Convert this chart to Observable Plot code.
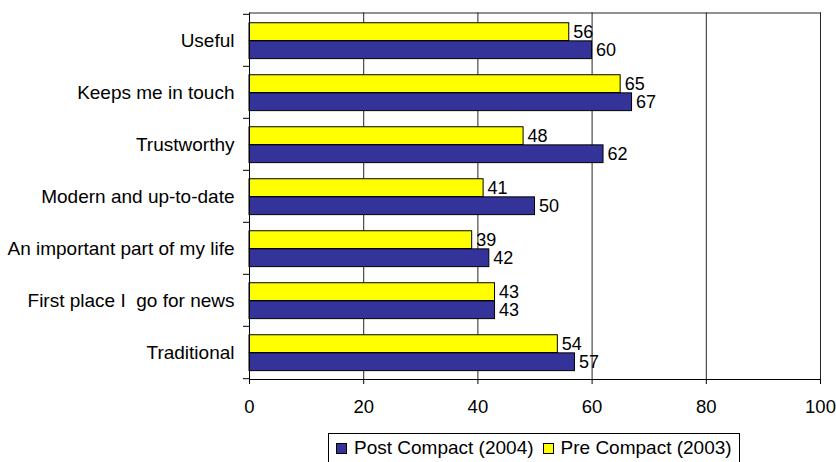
<!DOCTYPE html>
<html>
<head>
<meta charset="utf-8">
<script src="https://cdn.jsdelivr.net/npm/d3@7"></script>
<script src="https://cdn.jsdelivr.net/npm/@observablehq/plot@0.6"></script>
<style>
  html, body { margin: 0; padding: 0; background: #fff; }
  body { width: 836px; height: 462px; overflow: hidden; position: relative; font-family: "Liberation Sans", Arial, sans-serif; }
  #chart svg { display: block; }
  #legend {
    position: absolute; left: 328px; top: 433px; width: 412px; height: 30px;
    border: 1px solid #000; box-sizing: border-box; padding: 0 0 0 7px;
    font-size: 19px; line-height: 28px; display: flex; align-items: center;
    white-space: nowrap; color: #000;
  }
  .sw { display: inline-block; width: 9px; height: 9px; border: 1px solid #000; margin-right: 7px; }
  .item { display: inline-flex; align-items: center; margin-right: 9px; }
</style>
</head>
<body>
<div id="chart"></div>
<div id="legend"></div>
<script>
const categories = ["Useful", "Keeps me in touch", "Trustworthy", "Modern and up-to-date", "An important part of my life", "First place I  go for news", "Traditional"];
const seriesNames = ["Post Compact (2004)", "Pre Compact (2003)"];
const post2004 = [60, 67, 62, 50, 42, 43, 57];
const pre2003 = [56, 65, 48, 41, 39, 43, 54];
const xTicks = [0, 20, 40, 60, 80, 100];
const colors = { "Post Compact (2004)": "#333399", "Pre Compact (2003)": "#FFFF00" };

const preData = categories.map((c, i) => ({ category: c, value: pre2003[i] }));
const postData = categories.map((c, i) => ({ category: c, value: post2004[i] }));

const W = 836, H = 430, mt = 12.5, mb = 51, ml = 249, mr = 16;
const step = (H - mt - mb) / categories.length;
const topGap = step * 0.167, barH = step * 0.346;

const chart = Plot.plot({
  width: W, height: H,
  marginTop: mt, marginBottom: mb, marginLeft: ml, marginRight: mr,
  style: { fontFamily: "'Liberation Sans', Arial, sans-serif", fontSize: "19px", color: "#000", background: "#fff", overflow: "visible" },
  x: { domain: [0, 100], ticks: xTicks, label: null },
  y: { domain: categories, padding: 0, label: null },
  marks: [
    Plot.gridX(xTicks.filter(d => d > 0), { stroke: "#000", strokeOpacity: 0.85 }),
    Plot.frame({ anchor: "top", stroke: "#000", strokeOpacity: 0.85 }),
    Plot.barX(preData, { y: "category", x: "value", fill: colors["Pre Compact (2003)"], stroke: "#000", strokeWidth: 1,
      insetTop: topGap, insetBottom: step - topGap - barH }),
    Plot.barX(postData, { y: "category", x: "value", fill: colors["Post Compact (2004)"], stroke: "#000", strokeWidth: 1,
      insetTop: topGap + barH, insetBottom: step - topGap - 2 * barH }),
    Plot.text(preData, { y: "category", x: "value", text: d => String(d.value), textAnchor: "start", dx: 4,
      dy: topGap + barH / 2 - step / 2, fontSize: 18, fill: "#000" }),
    Plot.text(postData, { y: "category", x: "value", text: d => String(d.value), textAnchor: "start", dx: 4,
      dy: topGap + 1.5 * barH - step / 2, fontSize: 18, fill: "#000" }),
    Plot.ruleY(categories, { y: d => d, x1: -1.05, x2: 0, dy: -step / 2, stroke: "#000" }),
    Plot.ruleY([categories[categories.length - 1]], { y: d => d, x1: -1.05, x2: 0, dy: step / 2, stroke: "#000" }),
    Plot.frame({ anchor: "left", stroke: "#000" }),
    Plot.frame({ anchor: "bottom", stroke: "#000" }),
    Plot.axisX({ ticks: xTicks, tickSize: 5, tickPadding: 15, label: null, fontSize: 18.5 }),
    Plot.axisY({ tickSize: 0, tickPadding: 15, label: null, fontSize: 19 })
  ]
});
document.getElementById("chart").appendChild(chart);

const legend = document.getElementById("legend");
seriesNames.forEach(name => {
  const item = document.createElement("span");
  item.className = "item";
  const sw = document.createElement("span");
  sw.className = "sw";
  sw.style.background = colors[name];
  item.appendChild(sw);
  item.appendChild(document.createTextNode(name));
  legend.appendChild(item);
});
</script>
</body>
</html>
